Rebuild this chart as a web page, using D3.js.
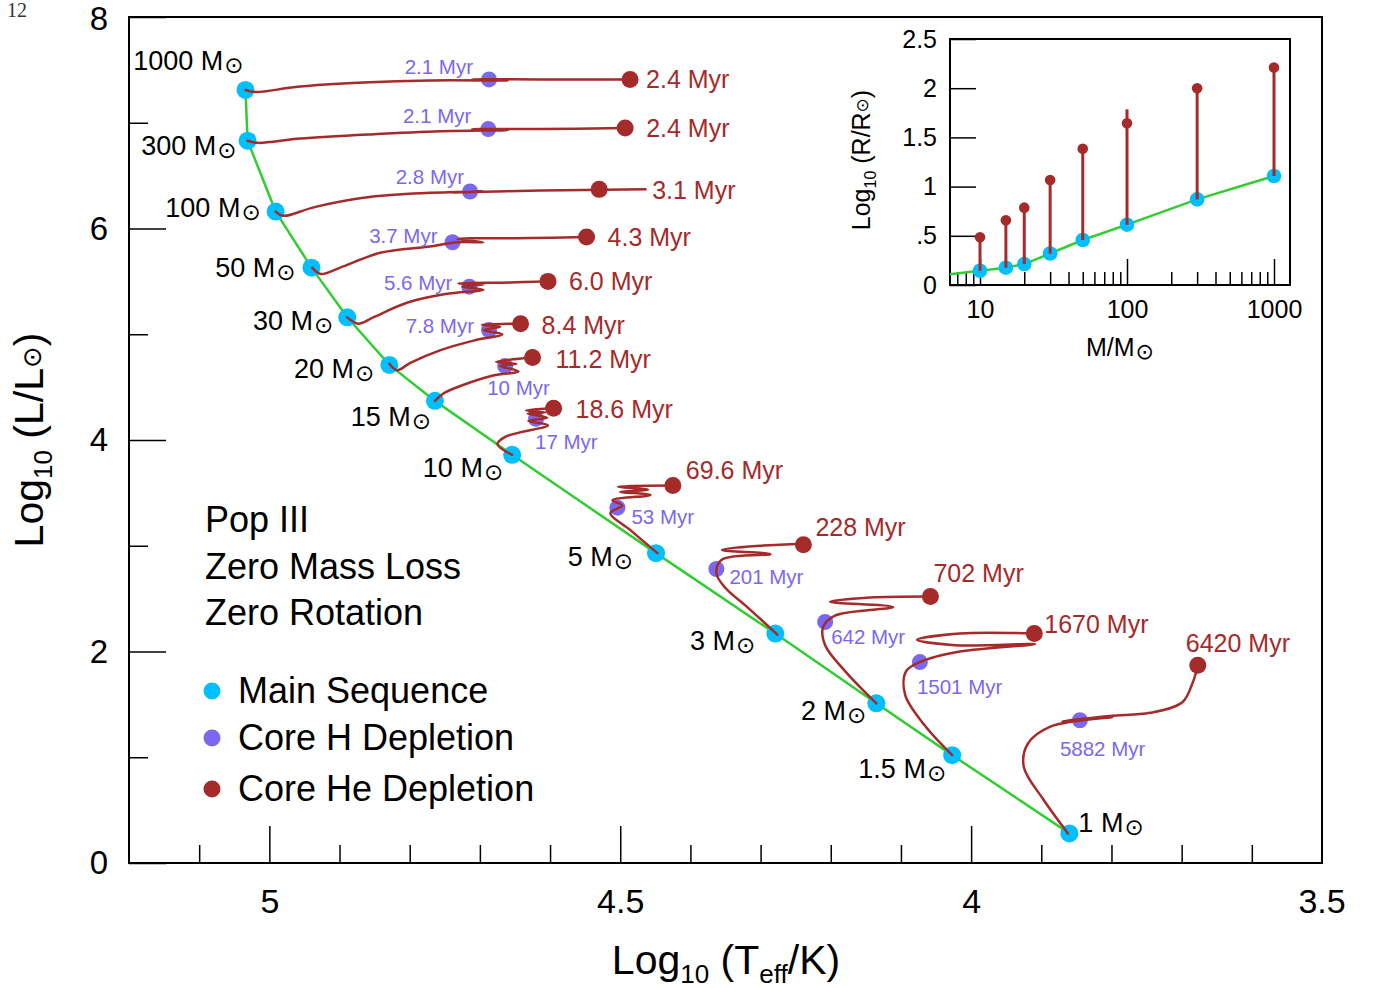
<!DOCTYPE html>
<html>
<head>
<meta charset="utf-8">
<script src="https://cdn.jsdelivr.net/npm/d3@7"></script>
<style>
body { margin: 0; background: #fff; }
</style>
</head>
<body>
<div id="chart"></div>
<script>
// ---- data (log Teff, log L) ----
const masses = ["1000", "300", "100", "50", "30", "20", "15", "10", "5", "3", "2", "1.5", "1"];

const msTeff = [5.034, 5.031, 4.991, 4.940, 4.889, 4.829, 4.764, 4.654, 4.449, 4.279, 4.135, 4.027, 3.860];
const msLum  = [7.31, 6.83, 6.16, 5.63, 5.16, 4.71, 4.37, 3.86, 2.93, 2.17, 1.51, 1.02, 0.28];

const hTeff = [4.687, 4.688, 4.714, 4.739, 4.715, 4.687, 4.664, 4.620, 4.504, 4.363, 4.208, 4.073, 3.845];
const hLum  = [7.41, 6.94, 6.35, 5.87, 5.45, 5.04, 4.70, 4.20, 3.36, 2.78, 2.28, 1.90, 1.35];
const hAge  = ["2.1", "2.1", "2.8", "3.7", "5.6", "7.8", "10", "17", "53", "201", "642", "1501", "5882"];

const heTeff = [4.486, 4.493, 4.530, 4.548, 4.603, 4.642, 4.625, 4.595, 4.425, 4.239, 4.058, 3.910, 3.677];
const heLum  = [7.41, 6.95, 6.37, 5.92, 5.50, 5.10, 4.78, 4.30, 3.57, 3.01, 2.52, 2.17, 1.87];
const heAge  = ["2.4", "2.4", "3.1", "4.3", "6.0", "8.4", "11.2", "18.6", "69.6", "228", "702", "1670", "6420"];

// evolutionary tracks
const track1000 = [[5.034,7.31],[5.020,7.29],[4.960,7.34],[4.866,7.38],[4.771,7.40],[4.660,7.40],[4.711,7.41],[4.614,7.41],[4.486,7.41]];
const track300  = [[5.031,6.83],[5.017,6.81],[4.956,6.85],[4.856,6.89],[4.756,6.92],[4.660,6.93],[4.711,6.94],[4.614,6.94],[4.493,6.95]];
const track100  = [[4.991,6.16],[4.980,6.12],[4.937,6.20],[4.866,6.29],[4.795,6.33],[4.695,6.35],[4.738,6.34],[4.614,6.36],[4.464,6.37]];
const track50   = [[4.939,5.63],[4.927,5.57],[4.899,5.63],[4.842,5.77],[4.771,5.83],[4.732,5.87],[4.695,5.87],[4.732,5.90],[4.628,5.91],[4.548,5.92]];
const track30   = [[4.889,5.16],[4.873,5.10],[4.852,5.16],[4.803,5.30],[4.749,5.38],[4.695,5.42],[4.725,5.45],[4.695,5.47],[4.731,5.48],[4.657,5.49],[4.603,5.50]];
const track20   = [[4.829,4.72],[4.818,4.66],[4.799,4.73],[4.756,4.85],[4.709,4.94],[4.668,5.00],[4.695,5.04],[4.671,5.07],[4.697,5.09],[4.642,5.10]];
const track15   = [[4.764,4.37],[4.752,4.44],[4.724,4.52],[4.681,4.61],[4.645,4.65],[4.671,4.70],[4.648,4.72],[4.677,4.74],[4.625,4.78]];
const track10   = [[4.654,3.86],[4.675,3.96],[4.664,4.03],[4.603,4.14],[4.631,4.18],[4.604,4.21],[4.632,4.25],[4.607,4.26],[4.634,4.28],[4.595,4.30]];
const track5    = [[4.447,2.93],[4.486,3.15],[4.514,3.31],[4.497,3.38],[4.511,3.43],[4.457,3.48],[4.500,3.51],[4.460,3.53],[4.503,3.56],[4.425,3.57]];
const track3    = [[4.276,2.16],[4.319,2.42],[4.350,2.60],[4.363,2.74],[4.355,2.87],[4.286,2.92],[4.355,2.96],[4.301,3.00],[4.239,3.02]];
const track2    = [[4.135,1.51],[4.179,1.81],[4.208,2.06],[4.211,2.23],[4.194,2.34],[4.111,2.42],[4.201,2.47],[4.144,2.51],[4.058,2.52]];
const track1_5  = [[4.027,1.02],[4.066,1.30],[4.094,1.59],[4.093,1.81],[4.073,1.90],[4.016,2.00],[3.909,2.07],[4.023,2.06],[4.077,2.11],[4.016,2.17],[3.910,2.17]];
const track1    = [[3.862,0.28],[3.897,0.60],[3.925,0.91],[3.919,1.13],[3.887,1.29],[3.799,1.38],[3.870,1.34],[3.802,1.39],[3.745,1.42],[3.699,1.52],[3.684,1.71],[3.677,1.87]];
const tracks = [track1000, track300, track100, track50, track30, track20, track15, track10, track5, track3, track2, track1_5, track1];

// inset: log R vs mass
const insetMass  = [10, 15, 20, 30, 50, 100, 300, 1000];
const insetRms   = [0.145, 0.176, 0.213, 0.32, 0.457, 0.613, 0.87, 1.108];
const insetRhe   = [0.485, 0.657, 0.786, 1.067, 1.385, 1.643, 2.0, 2.21];
const insetRmax  = [0.485, 0.657, 0.786, 1.067, 1.385, 1.785, 2.0, 2.21];
const insetLineMass = [6, 10, 15, 20, 30, 50, 100, 300, 1000];
const insetLineR    = [0.105, 0.145, 0.176, 0.213, 0.32, 0.457, 0.613, 0.87, 1.108];

const legendLabels = ["Main Sequence", "Core H Depletion", "Core He Depletion"];
const noteLines = ["Pop III", "Zero Mass Loss", "Zero Rotation"];

// ---- label placement (pixel offsets from the point) ----
const massLabelOff = [[-2,-20,"end"],[-11,14,"end"],[-15,5,"end"],[-16,9,"end"],[-14,13,"end"],[-15,13,"end"],[-4,25,"end"],[-9,22,"end"],[-23,13,"end"],[-20,16,"end"],[-10,17,"end"],[-6,23,"end"],[9,-1,"start"]];
const hLabelOff = [[-16,-5,"end"],[-17,-6,"end"],[-6,-7,"end"],[-15,1,"end"],[-17,3,"end"],[-15,3,"end"],[-18,29,"start"],[-1,30,"start"],[14,16,"start"],[13,15,"start"],[6,22,"start"],[-3,32,"start"],[-20,36,"start"]];
const heLabelOff = [[16,9],[21,9],[53,10],[21,9],[21,9],[21,10],[23,10],[22,10],[13,-6],[12,-9],[3,-15],[10,-1],[-12,-13]];

const cyan = "#00bfff", purple = "#7b68ee", red = "#a52a2a", green = "#32cd32";
const font = "'Liberation Sans', Arial, Helvetica, sans-serif";
const symFont = "'DejaVu Sans', sans-serif";
const W = 1375, H = 988;

const svg = d3.select("#chart").append("svg")
    .attr("width", W).attr("height", H)
    .attr("viewBox", "0 0 " + W + " " + H)
    .attr("font-family", font);

svg.append("text")
    .attr("x", 7).attr("y", 17)
    .attr("font-family", "'Liberation Serif', 'DejaVu Serif', serif")
    .attr("font-size", 20).attr("fill", "#333")
    .text("12");

const x = d3.scaleLinear().domain([5.2, 3.5]).range([129, 1322]);
const y = d3.scaleLinear().domain([0, 8]).range([863, 17]);

function sun(sel, size, dy) {
    sel.append("tspan")
        .attr("font-family", symFont)
        .attr("font-size", size).attr("dx", 1).attr("dy", dy)
        .text("\u2299");
}

// axes
const minorX = d3.range(36, 52).filter(d => d % 5 !== 0).map(d => d / 10);
svg.append("g").attr("transform", "translate(0,863)")
    .call(d3.axisBottom(x).tickValues(minorX).tickSize(-18).tickFormat(""))
    .call(g => g.select(".domain").remove());
svg.append("g").attr("transform", "translate(0,863)")
    .call(d3.axisBottom(x).tickValues([5, 4.5, 4]).tickSize(-37).tickPadding(26).tickFormat(d3.format("")))
    .call(g => g.select(".domain").remove())
    .call(g => g.selectAll("text").attr("font-size", 34).attr("font-family", font));
svg.append("g").attr("transform", "translate(1322,863)")
    .append("text").attr("text-anchor", "middle").attr("y", 50)
    .attr("font-size", 34).attr("fill", "#000").text("3.5");

svg.append("g").attr("transform", "translate(129,0)")
    .call(d3.axisLeft(y).tickValues([1, 3, 5, 7]).tickSize(-19).tickFormat(""))
    .call(g => g.select(".domain").remove());
svg.append("g").attr("transform", "translate(129,0)")
    .call(d3.axisLeft(y).tickValues([0, 2, 4, 6, 8]).tickSize(-37).tickPadding(21).tickFormat(d3.format("")))
    .call(g => g.select(".domain").remove())
    .call(g => g.selectAll("text").attr("font-size", 33).attr("font-family", font))
    .call(g => g.selectAll("text").filter(d => d === 8).attr("dy", "0.38em"));
svg.selectAll(".tick line").attr("stroke-width", 1.5);

svg.append("rect")
    .attr("x", 129).attr("y", 17).attr("width", 1322 - 129).attr("height", 863 - 17)
    .attr("fill", "none").attr("stroke", "#000").attr("stroke-width", 2);

// axis titles
const xt = svg.append("text").attr("x", 726).attr("y", 974)
    .attr("text-anchor", "middle").attr("font-size", 41);
xt.append("tspan").text("Log");
xt.append("tspan").attr("font-size", 26).attr("dy", 9).text("10");
xt.append("tspan").attr("dy", -9).text(" (T");
xt.append("tspan").attr("font-size", 26).attr("dy", 9).text("eff");
xt.append("tspan").attr("dy", -9).text("/K)");

const yt = svg.append("text").attr("transform", "translate(43,440) rotate(-90)")
    .attr("text-anchor", "middle").attr("font-size", 41);
yt.append("tspan").text("Log");
yt.append("tspan").attr("font-size", 26).attr("dy", 9).text("10");
yt.append("tspan").attr("dy", -9).text(" (L/L");
yt.append("tspan").attr("font-family", symFont).attr("font-size", 26).attr("dy", -2).text("\u2299");
yt.append("tspan").attr("dy", 2).text(")");

// main sequence line
svg.append("path")
    .datum(msTeff.map((t, i) => [t, msLum[i]]))
    .attr("d", d3.line().x(d => x(d[0])).y(d => y(d[1])))
    .attr("fill", "none").attr("stroke", green).attr("stroke-width", 2.5);

svg.append("g").selectAll("circle").data(msTeff).join("circle")
    .attr("cx", d => x(d)).attr("cy", (d, i) => y(msLum[i])).attr("r", 9).attr("fill", cyan);
svg.append("g").selectAll("circle").data(hTeff).join("circle")
    .attr("cx", d => x(d)).attr("cy", (d, i) => y(hLum[i])).attr("r", 8).attr("fill", purple);

const trackLine = d3.line().x(d => x(d[0])).y(d => y(d[1])).curve(d3.curveCatmullRom.alpha(0.5));
svg.append("g").selectAll("path").data(tracks).join("path")
    .attr("d", trackLine)
    .attr("fill", "none").attr("stroke", red).attr("stroke-width", 2.5)
    .attr("stroke-linejoin", "round").attr("stroke-linecap", "round");

svg.append("g").selectAll("circle").data(heTeff).join("circle")
    .attr("cx", d => x(d)).attr("cy", (d, i) => y(heLum[i])).attr("r", 8.5).attr("fill", red);

// labels
svg.append("g").selectAll("text").data(masses).join("text")
    .attr("x", (d, i) => x(msTeff[i]) + massLabelOff[i][0])
    .attr("y", (d, i) => y(msLum[i]) + massLabelOff[i][1])
    .attr("text-anchor", (d, i) => massLabelOff[i][2])
    .attr("font-size", 27)
    .each(function (d) {
        const t = d3.select(this);
        t.append("tspan").text(d + " M");
        sun(t, 23, 3);
    });

svg.append("g").selectAll("text").data(hAge).join("text")
    .attr("x", (d, i) => x(hTeff[i]) + hLabelOff[i][0])
    .attr("y", (d, i) => y(hLum[i]) + hLabelOff[i][1])
    .attr("text-anchor", (d, i) => hLabelOff[i][2])
    .attr("font-size", 20.5).attr("fill", purple)
    .text(d => d + " Myr");

svg.append("g").selectAll("text").data(heAge).join("text")
    .attr("x", (d, i) => x(heTeff[i]) + heLabelOff[i][0])
    .attr("y", (d, i) => y(heLum[i]) + heLabelOff[i][1])
    .attr("font-size", 25).attr("fill", red)
    .text(d => d + " Myr");

// notes and legend
svg.append("g").selectAll("text").data(noteLines).join("text")
    .attr("x", 205).attr("y", (d, i) => 532 + i * 46.5)
    .attr("font-size", 36).text(d => d);

const legendColors = [cyan, purple, red];
const leg = svg.append("g").selectAll("g").data(legendLabels).join("g")
    .attr("transform", (d, i) => "translate(212," + [691, 738, 789][i] + ")");
leg.append("circle").attr("r", 8.5).attr("fill", (d, i) => legendColors[i]);
leg.append("text").attr("x", 26).attr("y", 12).attr("font-size", 36).text(d => d);

// ---- inset ----
const ix = d3.scaleLog().domain([6.25, 1285]).range([950, 1290]);
const iy = d3.scaleLinear().domain([0, 2.5]).range([285, 39]);
const inset = svg.append("g");

inset.append("clipPath").attr("id", "insetClip")
    .append("rect").attr("x", 950).attr("y", 39).attr("width", 340).attr("height", 246);

const minorM = [7, 8, 9, 20, 30, 40, 50, 60, 70, 80, 90, 200, 300, 400, 500, 600, 700, 800, 900];
inset.append("g").attr("transform", "translate(0,285)")
    .call(d3.axisBottom(ix).tickValues(minorM).tickSize(-13).tickFormat(""))
    .call(g => g.select(".domain").remove());
inset.append("g").attr("transform", "translate(0,285)")
    .call(d3.axisBottom(ix).tickValues([10, 100, 1000]).tickSize(-26).tickPadding(15).tickFormat(d3.format("")))
    .call(g => g.select(".domain").remove())
    .call(g => g.selectAll("text").attr("font-size", 25).attr("font-family", font));
inset.append("g").attr("transform", "translate(950,0)")
    .call(d3.axisLeft(iy).tickValues([0, 0.5, 1, 1.5, 2, 2.5]).tickSize(-26).tickPadding(13)
        .tickFormat(d => d === 0.5 ? ".5" : String(d)))
    .call(g => g.select(".domain").remove())
    .call(g => g.selectAll("text").attr("font-size", 25).attr("font-family", font));
inset.selectAll(".tick line").attr("stroke-width", 1.5);

inset.append("rect")
    .attr("x", 950).attr("y", 39).attr("width", 340).attr("height", 246)
    .attr("fill", "none").attr("stroke", "#000").attr("stroke-width", 2);

inset.append("path")
    .datum(insetLineMass.map((m, i) => [m, insetLineR[i]]))
    .attr("clip-path", "url(#insetClip)")
    .attr("d", d3.line().x(d => ix(d[0])).y(d => iy(d[1])))
    .attr("fill", "none").attr("stroke", green).attr("stroke-width", 2.5);

inset.append("g").selectAll("circle").data(insetMass).join("circle")
    .attr("cx", d => ix(d)).attr("cy", (d, i) => iy(insetRms[i])).attr("r", 7.3).attr("fill", cyan);
inset.append("g").selectAll("line").data(insetMass).join("line")
    .attr("x1", d => ix(d)).attr("x2", d => ix(d))
    .attr("y1", (d, i) => iy(insetRms[i])).attr("y2", (d, i) => iy(insetRmax[i]))
    .attr("stroke", red).attr("stroke-width", 3);
inset.append("g").selectAll("circle").data(insetMass).join("circle")
    .attr("cx", d => ix(d)).attr("cy", (d, i) => iy(insetRhe[i])).attr("r", 5.3).attr("fill", red);

const ixt = inset.append("text").attr("x", 1120).attr("y", 356)
    .attr("text-anchor", "middle").attr("font-size", 25);
ixt.append("tspan").text("M/M");
sun(ixt, 22, 3);

const iyt = inset.append("text").attr("transform", "translate(870,160) rotate(-90)")
    .attr("text-anchor", "middle").attr("font-size", 25);
iyt.append("tspan").text("Log");
iyt.append("tspan").attr("font-size", 16).attr("dy", 6).text("10");
iyt.append("tspan").attr("dy", -6).text(" (R/R");
iyt.append("tspan").attr("font-family", symFont).attr("font-size", 17).attr("dy", -2).text("\u2299");
iyt.append("tspan").attr("dy", 2).text(")");
</script>
</body>
</html>
